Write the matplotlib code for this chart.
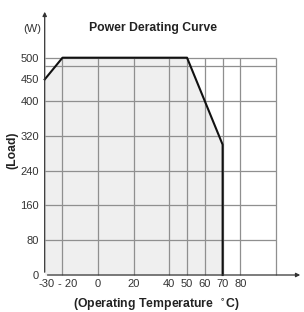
import matplotlib
matplotlib.use("Agg")
import matplotlib.pyplot as plt
from matplotlib.transforms import ScaledTranslation

# Data
curve_temp = [-30, -20, 50, 60, 70, 70]
curve_load = [450, 500, 500, 400, 300, 0]
x_ticks = [-30, -20, 0, 20, 40, 50, 60, 70, 80]
x_tick_labels = ['-30', '- 20', '0', '20', '40', '50', '60', '70', '80']
x_grid = [-20, 0, 20, 40, 50, 60, 70, 80, 100]
y_ticks = [0, 80, 160, 240, 320, 400, 450, 500]
y_grid = [80, 160, 240, 320, 400, 480, 500]

plt.rcParams['font.family'] = ['Liberation Sans', 'DejaVu Sans']

fig = plt.figure(figsize=(3.04, 3.12), dpi=100)
fig.patch.set_facecolor('white')
W, H = 304, 312
x0, x1 = 44.7, 276
y0, y1 = 275, 57.7
ax = fig.add_axes([x0 / W, 1 - y0 / H, (x1 - x0) / W, (y0 - y1) / H])
xmin, xmax, ymin, ymax = -30, 100, 0, 500
ax.set_xlim(xmin, xmax)
ax.set_ylim(ymin, ymax)
for s in ax.spines.values():
    s.set_visible(False)

# shaded area
ax.fill_between(curve_temp[:-1], 0, curve_load[:-1], color='#efefef', zorder=0, lw=0)

grid_c = '#8f8f8f'
ax.vlines(x_grid, ymin, ymax, colors=grid_c, lw=0.9, zorder=1, clip_on=False)
ax.hlines(y_grid, xmin, xmax, colors=grid_c, lw=0.9, zorder=1, clip_on=False)

ax.plot(curve_temp, curve_load, color='#111111', lw=1.5, zorder=3, clip_on=False)

# axes with arrows
px_x = (xmax - xmin) / (x1 - x0)
px_y = (ymax - ymin) / (y0 - y1)
ax.annotate('', xy=(xmin + (303 - x0) * px_x, 0), xytext=(xmin, 0),
            arrowprops=dict(arrowstyle='-|>', color='#333333', lw=0.9, mutation_scale=6),
            annotation_clip=False, zorder=4)
ax.annotate('', xy=(xmin, (y0 - 9) * px_y), xytext=(xmin, 0),
            arrowprops=dict(arrowstyle='-|>', color='#333333', lw=0.9, mutation_scale=6),
            annotation_clip=False, zorder=4)

ax.set_xticks(x_ticks)
ax.set_xticklabels(x_tick_labels)
ax.set_yticks(y_ticks)
ax.set_yticklabels([str(v) for v in y_ticks])
ax.tick_params(length=0, labelsize=8, colors='#333333')
ax.tick_params(axis='y', pad=4)
ax.tick_params(axis='x', pad=3)

# small horizontal nudges of the first two tick labels (as in reference)
nudges = {0: 1.8, 1: 5.5}
for i, lab in enumerate(ax.get_xticklabels()):
    if i in nudges:
        lab.set_transform(lab.get_transform() + ScaledTranslation(nudges[i] / 100, 0, fig.dpi_scale_trans))

fig.text(32 / W, 1 - 29 / H, '(W)', ha='center', va='center', fontsize=8, color='#333333')
fig.text(153 / W, 1 - 28 / H, 'Power Derating Curve', ha='center', va='center',
         fontsize=8.8, fontweight='bold', color='#222222')
fig.text(12 / W, 1 - 150 / H, '(Load)', ha='center', va='center', rotation=90,
         fontsize=8.8, fontweight='bold', color='#222222')
fig.text(156 / W, 1 - 305 / H, '(Operating Temperature  $^{\\circ}$C)', ha='center', va='center',
         fontsize=8.8, fontweight='bold', color='#222222')

fig.savefig('out.png', dpi=100, facecolor='white')
